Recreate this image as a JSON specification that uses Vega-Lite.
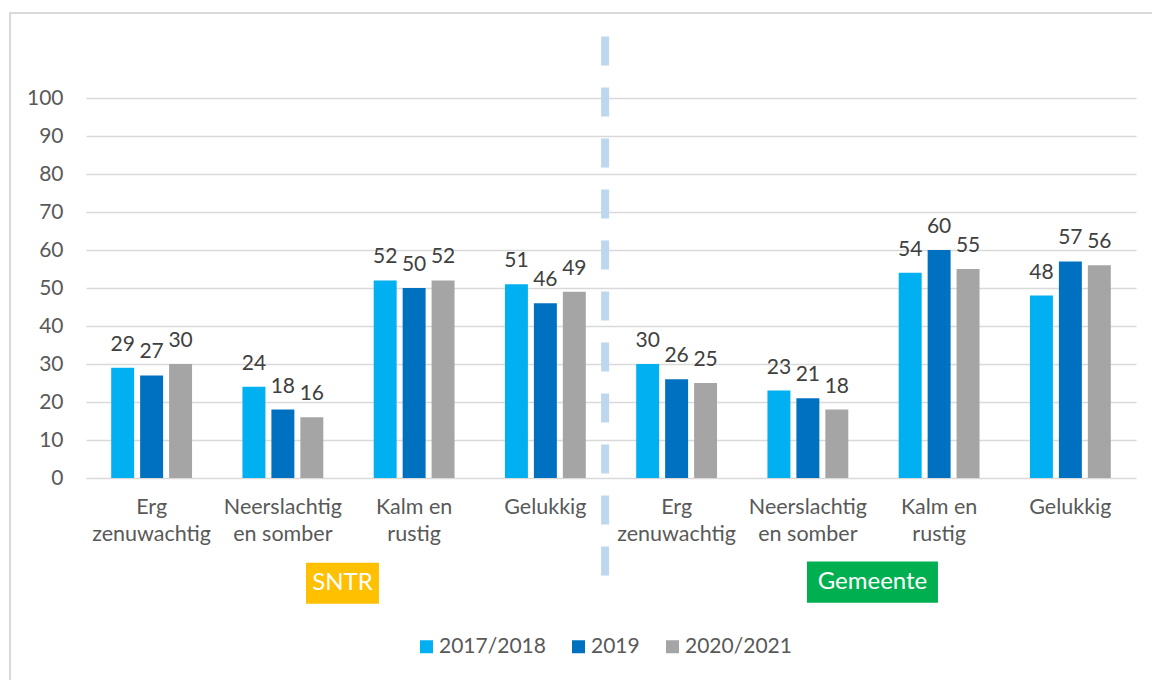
{
  "$schema": "https://vega.github.io/schema/vega-lite/v6.json",
  "width": 1050,
  "height": 380,
  "autosize": {"type": "none"},
  "padding": {"left": 86, "top": 98, "right": 16, "bottom": 202},
  "background": "white",
  "config": {"view": {"stroke": null}, "font": "Lato"},
  "datasets": {
    "bars": [
      {"item": "SNTR|Erg|zenuwachtig", "jaar": "2017/2018", "waarde": 29},
      {"item": "SNTR|Erg|zenuwachtig", "jaar": "2019", "waarde": 27},
      {"item": "SNTR|Erg|zenuwachtig", "jaar": "2020/2021", "waarde": 30},
      {"item": "SNTR|Neerslachtig|en somber", "jaar": "2017/2018", "waarde": 24},
      {"item": "SNTR|Neerslachtig|en somber", "jaar": "2019", "waarde": 18},
      {"item": "SNTR|Neerslachtig|en somber", "jaar": "2020/2021", "waarde": 16},
      {"item": "SNTR|Kalm en|rustig", "jaar": "2017/2018", "waarde": 52},
      {"item": "SNTR|Kalm en|rustig", "jaar": "2019", "waarde": 50},
      {"item": "SNTR|Kalm en|rustig", "jaar": "2020/2021", "waarde": 52},
      {"item": "SNTR|Gelukkig", "jaar": "2017/2018", "waarde": 51},
      {"item": "SNTR|Gelukkig", "jaar": "2019", "waarde": 46},
      {"item": "SNTR|Gelukkig", "jaar": "2020/2021", "waarde": 49},
      {"item": "Gemeente|Erg|zenuwachtig", "jaar": "2017/2018", "waarde": 30},
      {"item": "Gemeente|Erg|zenuwachtig", "jaar": "2019", "waarde": 26},
      {"item": "Gemeente|Erg|zenuwachtig", "jaar": "2020/2021", "waarde": 25},
      {"item": "Gemeente|Neerslachtig|en somber", "jaar": "2017/2018", "waarde": 23},
      {"item": "Gemeente|Neerslachtig|en somber", "jaar": "2019", "waarde": 21},
      {"item": "Gemeente|Neerslachtig|en somber", "jaar": "2020/2021", "waarde": 18},
      {"item": "Gemeente|Kalm en|rustig", "jaar": "2017/2018", "waarde": 54},
      {"item": "Gemeente|Kalm en|rustig", "jaar": "2019", "waarde": 60},
      {"item": "Gemeente|Kalm en|rustig", "jaar": "2020/2021", "waarde": 55},
      {"item": "Gemeente|Gelukkig", "jaar": "2017/2018", "waarde": 48},
      {"item": "Gemeente|Gelukkig", "jaar": "2019", "waarde": 57},
      {"item": "Gemeente|Gelukkig", "jaar": "2020/2021", "waarde": 56}
    ],
    "zones": [
      {"zone": "SNTR", "x0": 1.676, "x1": 2.232, "xm": 1.954, "y0": -22.3, "y1": -33.1, "ym": -27.7, "kleur": "#FFC000"},
      {"zone": "Gemeente", "x0": 5.493, "x1": 6.491, "xm": 5.992, "y0": -22.0, "y1": -32.8, "ym": -27.4, "kleur": "#00B050"}
    ],
    "scheiding": [{"x": 3.955, "boven": 116.2, "onder": -25.7}],
    "kader": [{"x0": -0.579, "x1": 8.6, "y0": 122.4, "y1": -70}]
  },
  "layer": [
    {
      "layer": [
        {
          "data": {"name": "kader"},
          "mark": {"type": "rect", "fill": null, "filled": false, "stroke": "#D9D9D9", "strokeWidth": 2, "clip": false},
          "encoding": {
            "x": {"field": "x0", "type": "quantitative", "scale": {"domain": [0, 8], "nice": false, "zero": false}, "axis": null},
            "x2": {"field": "x1"},
            "y": {"field": "y0", "type": "quantitative", "scale": {"domain": [0, 100], "nice": false}, "axis": null},
            "y2": {"field": "y1"}
          }
        },
        {
          "data": {"name": "scheiding"},
          "mark": {"type": "rule", "color": "#BDD7EE", "strokeWidth": 8, "strokeDash": [29, 22], "clip": false},
          "encoding": {
            "x": {"field": "x", "type": "quantitative", "scale": {"domain": [0, 8], "nice": false, "zero": false}, "axis": null},
            "y": {"field": "boven", "type": "quantitative", "scale": {"domain": [0, 100], "nice": false}, "axis": null},
            "y2": {"field": "onder"}
          }
        },
        {
          "data": {"name": "zones"},
          "mark": {"type": "rect", "clip": false},
          "encoding": {
            "x": {"field": "x0", "type": "quantitative", "scale": {"domain": [0, 8], "nice": false, "zero": false}, "axis": null},
            "x2": {"field": "x1"},
            "y": {"field": "y0", "type": "quantitative", "scale": {"domain": [0, 100], "nice": false}, "axis": null},
            "y2": {"field": "y1"},
            "fill": {"field": "kleur", "type": "nominal", "scale": null, "legend": null}
          }
        },
        {
          "data": {"name": "zones"},
          "mark": {"type": "text", "color": "white", "fontSize": 24, "align": "center", "baseline": "middle", "clip": false},
          "encoding": {
            "x": {"field": "xm", "type": "quantitative", "scale": {"domain": [0, 8], "nice": false, "zero": false}, "axis": null},
            "y": {"field": "ym", "type": "quantitative", "scale": {"domain": [0, 100], "nice": false}, "axis": null},
            "text": {"field": "zone"}
          }
        }
      ]
    },
    {
      "data": {"name": "bars"},
      "encoding": {
        "x": {
          "field": "item", "type": "nominal", "sort": null,
          "scale": {"paddingInner": 0.384, "paddingOuter": 0.192},
          "axis": {
            "title": null, "labelAngle": 0, "domain": false, "ticks": false, "tickSize": 0, "grid": false,
            "labelPadding": 18, "labelFontSize": 21.5, "labelColor": "#595959",
            "labelLineHeight": 27, "labelBaseline": "top", "labelFont": "Lato",
            "labelExpr": "slice(split(datum.value, '|'), 1)"
          }
        },
        "xOffset": {"field": "jaar", "type": "nominal", "scale": {"paddingInner": 0.207, "paddingOuter": 0}},
        "y": {
          "field": "waarde", "type": "quantitative",
          "scale": {"domain": [0, 100], "nice": false},
          "axis": {
            "title": null, "values": [0, 10, 20, 30, 40, 50, 60, 70, 80, 90, 100], "tickCount": 20,
            "grid": true, "labelOverlap": false,
            "domain": false, "ticks": false, "tickSize": 0, "labelPadding": 23,
            "labelFontSize": 21, "labelColor": "#595959", "labelFont": "Lato",
            "gridColor": "#D9D9D9", "gridWidth": 1.5
          }
        }
      },
      "layer": [
        {
          "mark": {"type": "bar"},
          "encoding": {
            "color": {
              "field": "jaar", "type": "nominal",
              "scale": {"domain": ["2017/2018", "2019", "2020/2021"], "range": ["#00B0F0", "#0070C0", "#A5A5A5"]},
              "legend": {
                "title": null, "orient": "none", "direction": "horizontal",
                "legendX": 330, "legendY": 538, "symbolType": "square", "symbolSize": 169,
                "symbolStrokeWidth": 0, "labelFontSize": 21, "labelColor": "#595959",
                "labelFont": "Lato", "columnPadding": 22, "labelOffset": 2
              }
            }
          }
        },
        {
          "mark": {"type": "text", "fontSize": 21, "color": "#404040", "baseline": "alphabetic", "dy": -17, "align": "center"},
          "encoding": {
            "text": {"field": "waarde", "type": "quantitative"}
          }
        }
      ]
    }
  ],
  "resolve": {"scale": {"x": "independent", "y": "independent", "fill": "independent", "color": "independent"}}
}
